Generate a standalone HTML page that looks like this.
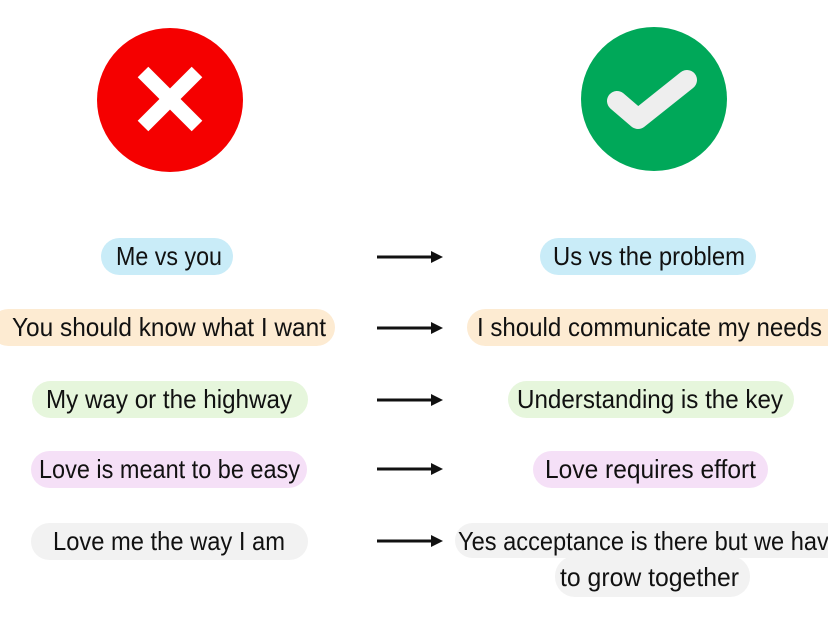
<!DOCTYPE html>
<html><head><style>html,body{margin:0;padding:0;background:#fff;}svg{display:block}</style></head>
<body>
<svg width="828" height="628" viewBox="0 0 828 628" xmlns="http://www.w3.org/2000/svg" font-family="'Liberation Sans', sans-serif" font-size="26" fill="#111">
<ellipse cx="170" cy="100" rx="73" ry="72" fill="#f50000"/>
<g stroke="#fff" stroke-width="15" stroke-linecap="butt">
<line x1="143" y1="72" x2="197" y2="126"/><line x1="197" y1="72" x2="143" y2="126"/>
</g>
<ellipse cx="654" cy="99" rx="73" ry="72" fill="#00a859"/>
<polyline points="617,101 638,119 687,80" fill="none" stroke="#eeeeee" stroke-width="20" stroke-linecap="round" stroke-linejoin="round"/>

<g>
<rect x="101" y="238" width="132" height="37" rx="18.5" fill="#c9ecf8"/>
<rect x="540" y="238" width="216" height="37" rx="18.5" fill="#c9ecf8"/>
<rect x="-10" y="309" width="345" height="37" rx="18.5" fill="#fdebd2"/>
<rect x="467" y="309" width="380" height="37" rx="18.5" fill="#fdebd2"/>
<rect x="32" y="381" width="276" height="37" rx="18.5" fill="#e6f6dc"/>
<rect x="508" y="381" width="286" height="37" rx="18.5" fill="#e6f6dc"/>
<rect x="31" y="451" width="276" height="37" rx="18.5" fill="#f5e0f7"/>
<rect x="533" y="451" width="235" height="37" rx="18.5" fill="#f5e0f7"/>
<rect x="31" y="523" width="277" height="37" rx="18.5" fill="#f2f2f2"/>
<rect x="455" y="523" width="390" height="35" rx="17.5" fill="#f2f2f2"/>
<rect x="555" y="556" width="195" height="41" rx="20" fill="#f2f2f2"/>
</g>

<g>
<text x="116" y="265" textLength="106" lengthAdjust="spacingAndGlyphs">Me vs you</text>
<text x="553" y="265" textLength="192" lengthAdjust="spacingAndGlyphs">Us vs the problem</text>
<text x="12" y="336" textLength="314" lengthAdjust="spacingAndGlyphs">You should know what I want</text>
<text x="477" y="336" textLength="345" lengthAdjust="spacingAndGlyphs">I should communicate my needs</text>
<text x="46" y="408" textLength="246" lengthAdjust="spacingAndGlyphs">My way or the highway</text>
<text x="517" y="408" textLength="266" lengthAdjust="spacingAndGlyphs">Understanding is the key</text>
<text x="39" y="478" textLength="261" lengthAdjust="spacingAndGlyphs">Love is meant to be easy</text>
<text x="545" y="478" textLength="211" lengthAdjust="spacingAndGlyphs">Love requires effort</text>
<text x="53" y="550" textLength="232" lengthAdjust="spacingAndGlyphs">Love me the way I am</text>
<text x="458" y="550" textLength="384" lengthAdjust="spacingAndGlyphs">Yes acceptance is there but we have</text>
<text x="560" y="586" textLength="179" lengthAdjust="spacingAndGlyphs">to grow together</text>
</g>

<g stroke="#111" stroke-width="3">
<line x1="377" y1="257" x2="434" y2="257"/>
<line x1="377" y1="328" x2="434" y2="328"/>
<line x1="377" y1="400" x2="434" y2="400"/>
<line x1="377" y1="469" x2="434" y2="469"/>
<line x1="377" y1="541" x2="434" y2="541"/>
</g>
<g fill="#111">
<polygon points="431,251 443,257 431,263"/>
<polygon points="431,322 443,328 431,334"/>
<polygon points="431,394 443,400 431,406"/>
<polygon points="431,463 443,469 431,475"/>
<polygon points="431,535 443,541 431,547"/>
</g>
</svg>
</body></html>
